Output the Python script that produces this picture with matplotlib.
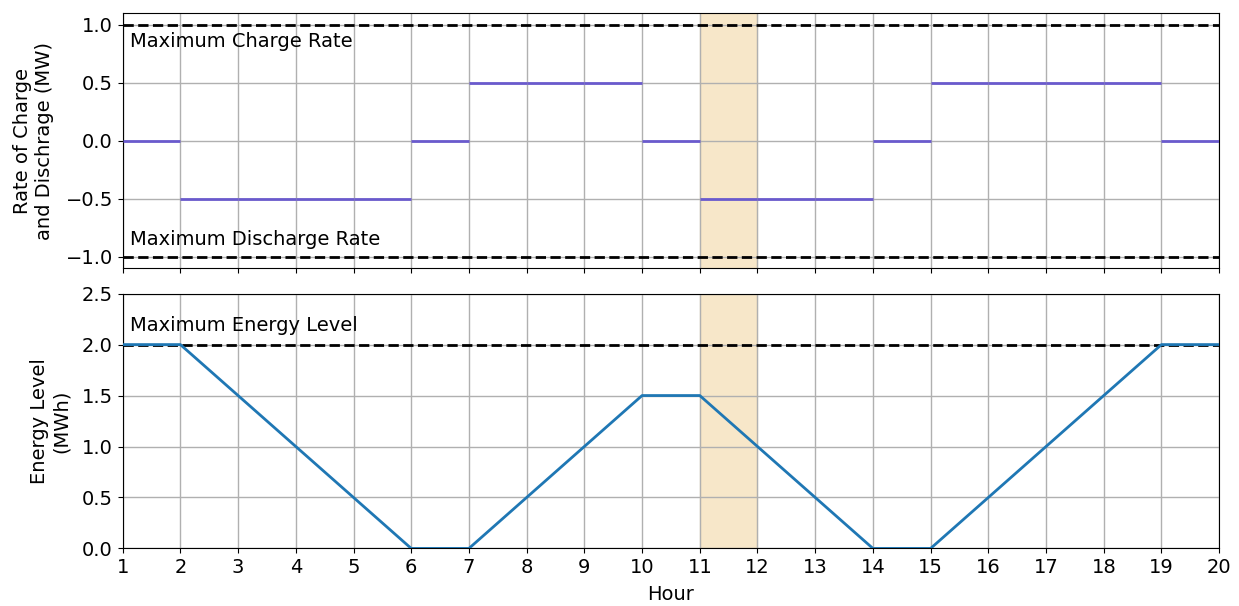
import matplotlib
matplotlib.use("Agg")
import matplotlib.pyplot as plt

hours = list(range(1, 21))
rate_start = [1, 2, 3, 4, 5, 6, 7, 8, 9, 10, 11, 12, 13, 14, 15, 16, 17, 18, 19]
rate_values = [0, -0.5, -0.5, -0.5, -0.5, 0, 0.5, 0.5, 0.5, 0, -0.5, -0.5, -0.5, 0, 0.5, 0.5, 0.5, 0.5, 0]
energy = [2, 2, 1.5, 1, 0.5, 0, 0, 0.5, 1, 1.5, 1.5, 1, 0.5, 0, 0, 0.5, 1, 1.5, 2, 2]
max_charge = 1.0
max_discharge = -1.0
max_energy = 2.0
highlight = (11, 12)

plt.rcParams['font.size'] = 14
fig, (ax1, ax2) = plt.subplots(2, 1, figsize=(12.39, 6.06), dpi=100, sharex=True)
fig.subplots_adjust(left=0.099, right=0.984, top=0.978, bottom=0.095, hspace=0.1)

for ax in (ax1, ax2):
    ax.axvspan(highlight[0], highlight[1], color='wheat', alpha=0.7, zorder=0)
    ax.grid(True, color='#b0b0b0', linewidth=1)
    ax.set_axisbelow(True)

ax1.hlines(rate_values, rate_start, [s + 1 for s in rate_start], color='slateblue', linewidth=2, zorder=3)
ax1.axhline(max_charge, color='black', linestyle='--', linewidth=2)
ax1.axhline(max_discharge, color='black', linestyle='--', linewidth=2)
ax1.text(1.12, 0.855, 'Maximum Charge Rate', va='center', ha='left')
ax1.text(1.12, -0.855, 'Maximum Discharge Rate', va='center', ha='left')
ax1.set_ylim(-1.1, 1.1)
ax1.set_yticks([-1.0, -0.5, 0.0, 0.5, 1.0])
ax1.set_ylabel('Rate of Charge\nand Dischrage (MW)', labelpad=8)

ax2.axhline(max_energy, color='black', linestyle='--', linewidth=2, zorder=2)
ax2.plot(hours, energy, color='tab:blue', linewidth=2, zorder=3)
ax2.text(1.12, 2.19, 'Maximum Energy Level', va='center', ha='left')
ax2.set_ylim(0, 2.5)
ax2.set_yticks([0, 0.5, 1.0, 1.5, 2.0, 2.5])
ax2.set_ylabel('Energy Level\n(MWh)', labelpad=8)
ax2.set_xlim(1, 20)
ax2.set_xticks(hours)
ax2.set_xlabel('Hour', labelpad=6)

fig.savefig('out.png', dpi=100)
